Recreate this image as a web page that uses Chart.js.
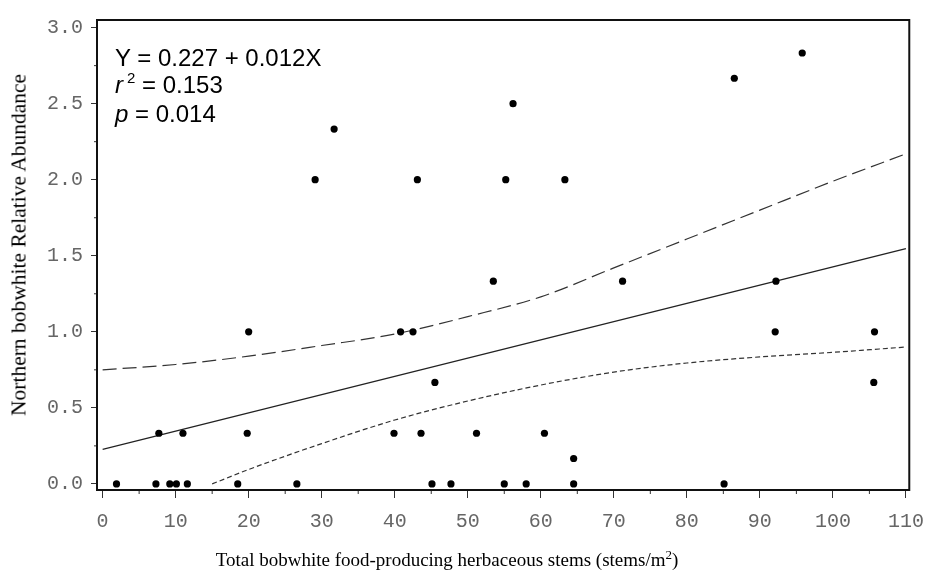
<!DOCTYPE html>
<html>
<head>
<meta charset="utf-8">
<script src="https://cdn.jsdelivr.net/npm/chart.js@4"></script>
<style>
  body { margin: 0; background: #fff; }
  #wrap { position: relative; width: 936px; height: 575px; }
  #bobChart { position: absolute; left: 0; top: 0; }
  .note {
    position: absolute; left: 115px; top: 45px;
    font: 24px "Liberation Sans", Arial, sans-serif; line-height: 26.5px; color: #000;
    white-space: nowrap;
  }
  .note .sup { position: relative; top: -10px; font-size: 15px; margin-left: 4px; }
  .ytitle {
    position: absolute; left: 19px; top: 245px;
    transform: translate(-50%, -50%) rotate(-90deg);
    font: 21.5px "Liberation Serif", "Times New Roman", serif; color: #000; white-space: nowrap;
  }
  .xtitle {
    position: absolute; left: 0; width: 894px; top: 549px; text-align: center;
    font: 19px "Liberation Serif", "Times New Roman", serif; line-height: 22px; color: #000;
    white-space: nowrap;
  }
  .xtitle .sup { position: relative; top: -7px; font-size: 13px; }
</style>
</head>
<body>
<div id="wrap">
  <canvas id="bobChart" width="936" height="575"></canvas>
  <div class="note">
    Y = 0.227 + 0.012X<br>
    <i>r</i><span class="sup">2</span> = 0.153<br>
    <i>p</i> = 0.014
  </div>
  <div class="ytitle">Northern bobwhite Relative Abundance</div>
  <div class="xtitle">Total bobwhite food-producing herbaceous stems (stems/m<span class="sup">2</span>)</div>
</div>
<script>
// Observed sites: stems per m2 vs relative abundance
const stemsX = [1.9, 7.3, 9.2, 10.1, 11.6, 18.5, 26.6, 45.1, 47.7, 55.0, 58.0, 64.5, 85.1,
  7.7, 11.0, 19.8, 39.9, 43.6, 51.2, 60.5,
  64.5, 45.5, 105.6,
  20.0, 40.8, 42.5, 92.1, 105.7,
  53.5, 71.2, 92.2,
  29.1, 43.1, 55.2, 63.3,
  31.7, 56.2, 86.5, 95.8];
const abundY = [0, 0, 0, 0, 0, 0, 0, 0, 0, 0, 0, 0, 0,
  0.333, 0.333, 0.333, 0.333, 0.333, 0.333, 0.333,
  0.167, 0.667, 0.667,
  1, 1, 1, 1, 1,
  1.333, 1.333, 1.333,
  2, 2, 2, 2,
  2.333, 2.5, 2.667, 2.833];

// Fitted line Y = 0.227 + 0.012X (end points)
const fitX = [0, 110];
const fitY = [0.227, 1.547];

// Confidence bands
const upperX = [0, 10, 20, 30, 40, 50, 60, 70, 80, 90, 100, 110];
const upperY = [0.75, 0.785, 0.84, 0.91, 0.985, 1.10, 1.23, 1.42, 1.61, 1.80, 1.99, 2.17];
const lowerX = [15, 20, 30, 40, 50, 60, 70, 80, 90, 100, 110];
const lowerY = [0.0, 0.095, 0.265, 0.42, 0.545, 0.65, 0.735, 0.795, 0.835, 0.865, 0.90];

// Axis ticks
const xTicks = [0, 10, 20, 30, 40, 50, 60, 70, 80, 90, 100, 110];
const yTicks = [0, 0.5, 1, 1.5, 2, 2.5, 3];

const toPts = (xs, ys) => xs.map((x, i) => ({ x: x, y: ys[i] }));

// frame round the plot plus the short minor ticks
const framePlugin = {
  id: 'frame',
  afterDraw(chart) {
    const { ctx, chartArea: a, scales } = chart;
    ctx.save();
    ctx.strokeStyle = '#333';
    ctx.lineWidth = 1;
    ctx.beginPath();
    for (let i = 0; i < xTicks.length - 1; i++) {
      const px = scales.x.getPixelForValue((xTicks[i] + xTicks[i + 1]) / 2);
      ctx.moveTo(px, a.bottom);
      ctx.lineTo(px, a.bottom + 4);
    }
    for (let i = 0; i < yTicks.length - 1; i++) {
      const py = scales.y.getPixelForValue((yTicks[i] + yTicks[i + 1]) / 2);
      ctx.moveTo(a.left, py);
      ctx.lineTo(a.left - 3, py);
    }
    ctx.stroke();
    ctx.strokeStyle = '#111';
    ctx.lineWidth = 2;
    ctx.strokeRect(a.left, a.top, a.right - a.left, a.bottom - a.top);
    ctx.restore();
  }
};

const tickFont = { family: '"Liberation Mono", "DejaVu Sans Mono", monospace', size: 20 };

new Chart(document.getElementById('bobChart'), {
  type: 'scatter',
  data: {
    datasets: [
      {
        data: toPts(stemsX, abundY),
        pointRadius: 3.6,
        pointBackgroundColor: '#000',
        pointBorderWidth: 0,
        order: 0
      },
      {
        data: toPts(fitX, fitY),
        showLine: true, pointRadius: 0,
        borderColor: '#222', borderWidth: 1.2,
        order: 1
      },
      {
        data: toPts(upperX, upperY),
        showLine: true, pointRadius: 0,
        borderColor: '#333', borderWidth: 1.2, borderDash: [14, 6],
        cubicInterpolationMode: 'monotone',
        order: 1
      },
      {
        data: toPts(lowerX, lowerY),
        showLine: true, pointRadius: 0,
        borderColor: '#333', borderWidth: 1.2, borderDash: [5, 3],
        cubicInterpolationMode: 'monotone',
        order: 1
      }
    ]
  },
  options: {
    responsive: false,
    animation: false,
    devicePixelRatio: 1,
    layout: { padding: { left: 0, top: 14, right: 19, bottom: 0 } },
    plugins: { legend: { display: false }, tooltip: { enabled: false } },
    scales: {
      x: {
        type: 'linear',
        min: -0.77, max: 110.46,
        afterBuildTicks: (s) => { s.ticks = xTicks.map(v => ({ value: v })); },
        afterFit: (s) => { s.height = 85; },
        grid: { drawOnChartArea: false, drawTicks: true, tickLength: 8, color: '#333' },
        border: { display: false },
        ticks: { color: '#666', font: tickFont, padding: 12, maxRotation: 0, autoSkip: false }
      },
      y: {
        type: 'linear',
        min: -0.04, max: 3.05,
        afterBuildTicks: (s) => { s.ticks = yTicks.map(v => ({ value: v })); },
        afterFit: (s) => { s.width = 97; },
        grid: { drawOnChartArea: false, drawTicks: true, tickLength: 6, color: '#333' },
        border: { display: false },
        ticks: {
          color: '#666', font: tickFont, padding: 8, autoSkip: false,
          callback: (v) => Number(v).toFixed(1)
        }
      }
    }
  },
  plugins: [framePlugin]
});
</script>
</body>
</html>
